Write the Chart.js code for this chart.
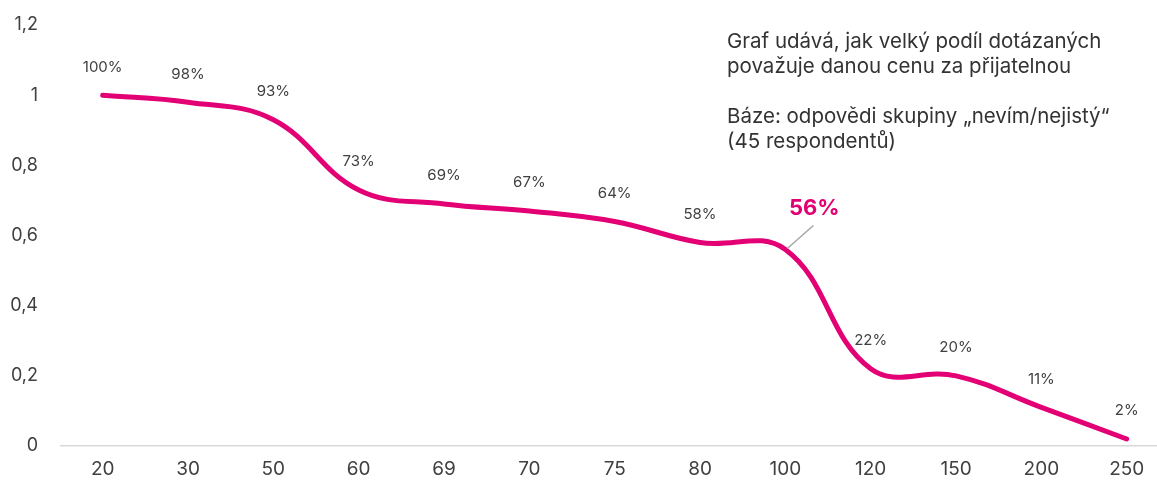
<!DOCTYPE html>
<html lang="cs">
<head>
<meta charset="utf-8">
<title>Přijatelná cena</title>
<script src="https://cdn.jsdelivr.net/npm/chart.js@4.4.0/dist/chart.umd.min.js"></script>
<style>
  html, body { margin: 0; padding: 0; background: #fff; overflow: hidden; }
  #wrap { position: relative; width: 1157px; height: 484px; }
</style>
</head>
<body>
<div id="wrap"><canvas id="chart"></canvas></div>
<script>
// ceny (osa x) a podíl respondentů, kteří cenu považují za přijatelnou
const prices = ['20', '30', '50', '60', '69', '70', '75', '80', '100', '120', '150', '200', '250'];
const shares = [1.00, 0.98, 0.93, 0.73, 0.69, 0.67, 0.64, 0.58, 0.56, 0.22, 0.20, 0.11, 0.02];
const yTicks = [0, 0.2, 0.4, 0.6, 0.8, 1, 1.2];
const highlightIndex = 8;
const noteLines = [
  'Graf udává, jak velký podíl dotázaných',
  'považuje danou cenu za přijatelnou',
  '',
  'Báze: odpovědi skupiny „nevím/nejistý“',
  '(45 respondentů)'
];

const MAGENTA = '#e20074';
const TEXT = '#404040';
const FONT = 'Inter, "Liberation Sans", sans-serif';

const fmtPct = v => Math.round(v * 100) + '%';

const pointLabels = {
  id: 'pointLabels',
  afterDatasetsDraw(chart) {
    const ctx = chart.ctx;
    const meta = chart.getDatasetMeta(0);
    ctx.save();
    ctx.textAlign = 'center';
    ctx.textBaseline = 'middle';
    meta.data.forEach((pt, i) => {
      if (i === highlightIndex) {
        // zvýrazněná hodnota s odkazovou čarou
        ctx.strokeStyle = '#a6a6a6';
        ctx.lineWidth = 1.5;
        ctx.beginPath();
        ctx.moveTo(pt.x + 2, pt.y - 1);
        ctx.lineTo(pt.x + 28, pt.y - 24);
        ctx.stroke();
        ctx.fillStyle = MAGENTA;
        ctx.font = 'bold 22px ' + FONT;
        ctx.fillText(fmtPct(shares[i]), pt.x + 29, pt.y - 41);
      } else {
        ctx.fillStyle = TEXT;
        ctx.font = '15px ' + FONT;
        ctx.fillText(fmtPct(shares[i]), pt.x, pt.y - 28);
      }
    });
    ctx.restore();
  }
};

const note = {
  id: 'note',
  afterDraw(chart) {
    const ctx = chart.ctx;
    ctx.save();
    ctx.fillStyle = '#333333';
    ctx.font = '20.5px ' + FONT;
    ctx.textAlign = 'left';
    ctx.textBaseline = 'middle';
    noteLines.forEach((line, i) => ctx.fillText(line, 727, 42 + i * 25));
    ctx.restore();
  }
};

new Chart(document.getElementById('chart'), {
  type: 'line',
  data: {
    datasets: [{
      data: shares.map((v, i) => ({ x: i, y: v })),
      borderColor: MAGENTA,
      borderWidth: 5,
      borderCapStyle: 'round',
      borderJoinStyle: 'round',
      tension: 0.4,
      pointRadius: 0,
      fill: false
    }]
  },
  options: {
    responsive: true,
    maintainAspectRatio: false,
    animation: false,
    layout: { padding: { top: 25, right: 0, bottom: 0, left: 0 } },
    plugins: { legend: { display: false }, tooltip: { enabled: false } },
    scales: {
      x: {
        type: 'linear',
        min: -0.5,
        max: 12.355,
        afterBuildTicks: s => { s.ticks = prices.map((_, i) => ({ value: i })); },
        afterFit: s => { s.height = 38; },
        border: { display: false },
        grid: { display: false, drawTicks: false },
        ticks: {
          padding: 12,
          color: TEXT,
          font: { family: FONT, size: 19 },
          callback: v => prices[v]
        }
      },
      y: {
        min: 0,
        max: 1.2,
        afterBuildTicks: s => { s.ticks = yTicks.map(v => ({ value: v })); },
        afterFit: s => {
          s.width = 60;
          s.paddingTop = 0;
          s.paddingBottom = 0;
        },
        border: { display: false },
        grid: {
          drawTicks: false,
          lineWidth: 1.5,
          color: c => (c.tick && c.tick.value === 0 ? '#d9d9d9' : 'rgba(0,0,0,0)')
        },
        ticks: {
          padding: 22,
          color: TEXT,
          font: { family: FONT, size: 18 },
          callback: v => String(Math.round(v * 10) / 10).replace('.', ',')
        }
      }
    }
  },
  plugins: [pointLabels, note]
});
</script>
</body>
</html>
